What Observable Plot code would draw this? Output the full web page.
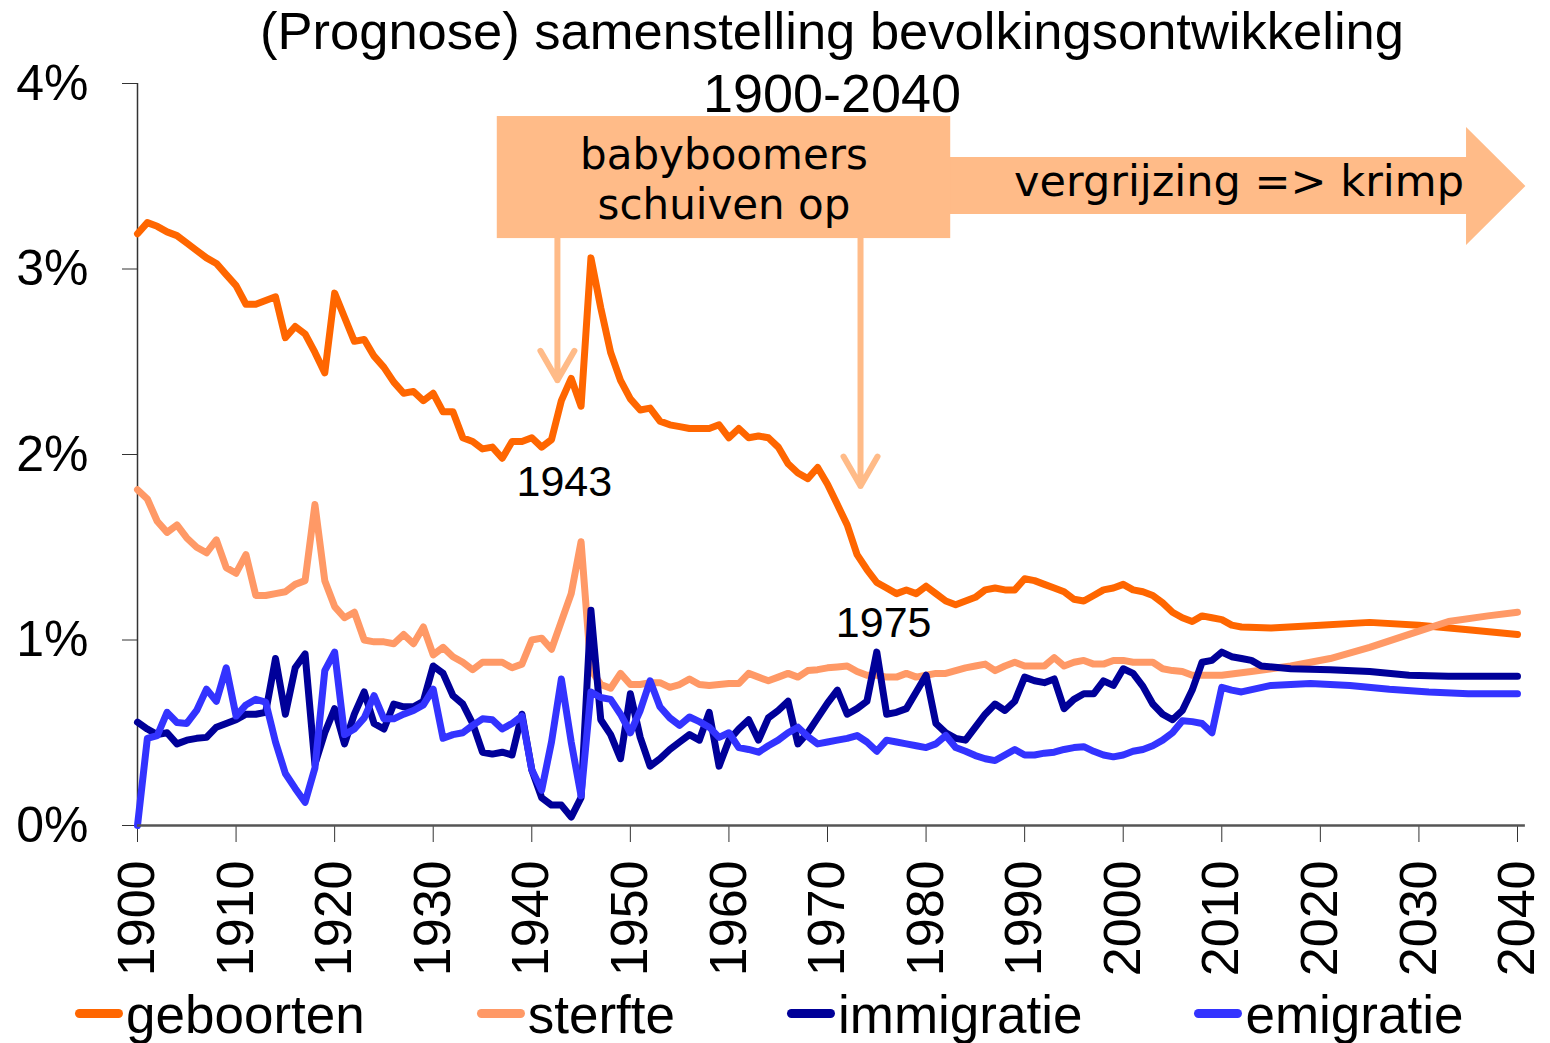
<!DOCTYPE html>
<html>
<head>
<meta charset="utf-8">
<script src="https://cdn.jsdelivr.net/npm/d3@7"></script>
<script src="https://cdn.jsdelivr.net/npm/@observablehq/plot@0.6"></script>
<style>
  body { margin: 0; background: #fff; }
  #wrap { position: relative; width: 1550px; height: 1043px; overflow: hidden; background: #fff; }
  #title { position: absolute; top: 0; left: 114px; right: 0; text-align: center;
           font-family: 'Liberation Sans', Arial, sans-serif; font-size: 52.5px; line-height: 62px;
           color: #000; pointer-events: none; z-index: 2; white-space: nowrap; }
  #title .sub { font-size: 54px; }
  #chart svg { display: block; }
  #legend { display: flex; padding-left: 75px; gap: 112px; height: 56px; align-items: center;
            font-family: 'Liberation Sans', Arial, sans-serif; font-size: 53px; line-height: 56px; color: #000; }
  .item { display: flex; align-items: center; white-space: nowrap; }
  .sw { width: 48px; height: 9px; border-radius: 5px; margin-right: 3px; margin-top: -4px; }
</style>
</head>
<body>
<div id="wrap">
  <div id="title">(Prognose) samenstelling bevolkingsontwikkeling<br><span class="sub">1900-2040</span></div>
  <div id="chart"></div>
  <div id="legend"></div>
</div>
<script>
// ---- data (percent of population per year) ----
const seriesNames = ["geboorten", "sterfte", "immigratie", "emigratie"];
const seriesColors = ["#FF6600", "#FF9966", "#000099", "#3333FF"];

const geboorten = [[1900,3.19],[1901,3.25],[1902,3.23],[1903,3.20],[1904,3.18],[1905,3.14],[1906,3.10],[1907,3.06],[1908,3.03],[1909,2.97],
[1910,2.91],[1911,2.81],[1912,2.81],[1913,2.83],[1914,2.85],[1915,2.63],[1916,2.69],[1917,2.65],[1918,2.55],[1919,2.44],
[1920,2.87],[1921,2.74],[1922,2.61],[1923,2.62],[1924,2.53],[1925,2.47],[1926,2.39],[1927,2.33],[1928,2.34],[1929,2.29],
[1930,2.33],[1931,2.23],[1932,2.23],[1933,2.09],[1934,2.07],[1935,2.03],[1936,2.04],[1937,1.98],[1938,2.07],[1939,2.07],
[1940,2.09],[1941,2.04],[1942,2.08],[1943,2.29],[1944,2.41],[1945,2.26],[1946,3.06],[1947,2.79],[1948,2.55],[1949,2.40],
[1950,2.30],[1951,2.24],[1952,2.25],[1953,2.18],[1954,2.16],[1955,2.15],[1956,2.14],[1957,2.14],[1958,2.14],[1959,2.16],
[1960,2.09],[1961,2.14],[1962,2.09],[1963,2.10],[1964,2.09],[1965,2.04],[1966,1.95],[1967,1.90],[1968,1.87],[1969,1.93],
[1970,1.84],[1971,1.73],[1972,1.62],[1973,1.46],[1974,1.38],[1975,1.31],[1976,1.28],[1977,1.25],[1978,1.27],[1979,1.25],
[1980,1.29],[1981,1.25],[1982,1.21],[1983,1.19],[1984,1.21],[1985,1.23],[1986,1.27],[1987,1.28],[1988,1.27],[1989,1.27],
[1990,1.33],[1991,1.32],[1992,1.30],[1993,1.28],[1994,1.26],[1995,1.22],[1996,1.21],[1997,1.24],[1998,1.27],[1999,1.28],
[2000,1.30],[2001,1.27],[2002,1.26],[2003,1.24],[2004,1.20],[2005,1.15],[2006,1.12],[2007,1.10],[2008,1.13],[2009,1.12],
[2010,1.11],[2011,1.08],[2012,1.07],[2015,1.065],[2020,1.08],[2025,1.095],[2030,1.08],[2035,1.055],[2040,1.03]];

const sterfte = [[1900,1.81],[1901,1.76],[1902,1.64],[1903,1.58],[1904,1.62],[1905,1.55],[1906,1.50],[1907,1.47],[1908,1.54],[1909,1.39],
[1910,1.36],[1911,1.46],[1912,1.24],[1913,1.24],[1914,1.25],[1915,1.26],[1916,1.30],[1917,1.32],[1918,1.73],[1919,1.32],
[1920,1.18],[1921,1.12],[1922,1.15],[1923,1.00],[1924,0.99],[1925,0.99],[1926,0.98],[1927,1.03],[1928,0.98],[1929,1.07],
[1930,0.92],[1931,0.96],[1932,0.91],[1933,0.88],[1934,0.84],[1935,0.88],[1936,0.88],[1937,0.88],[1938,0.85],[1939,0.87],
[1940,1.00],[1941,1.01],[1942,0.95],[1943,1.10],[1944,1.25],[1945,1.53],[1946,0.84],[1947,0.76],[1948,0.74],[1949,0.82],
[1950,0.76],[1951,0.76],[1952,0.77],[1953,0.77],[1954,0.745],[1955,0.76],[1956,0.79],[1957,0.76],[1958,0.755],[1959,0.76],
[1960,0.765],[1961,0.765],[1962,0.82],[1963,0.80],[1964,0.78],[1965,0.80],[1966,0.82],[1967,0.80],[1968,0.835],[1969,0.84],
[1970,0.85],[1971,0.855],[1972,0.86],[1973,0.83],[1974,0.81],[1975,0.81],[1976,0.80],[1977,0.80],[1978,0.82],[1979,0.80],
[1980,0.81],[1981,0.82],[1982,0.82],[1983,0.835],[1984,0.85],[1985,0.86],[1986,0.87],[1987,0.835],[1988,0.86],[1989,0.88],
[1990,0.86],[1991,0.86],[1992,0.86],[1993,0.905],[1994,0.86],[1995,0.88],[1996,0.89],[1997,0.87],[1998,0.87],[1999,0.89],
[2000,0.89],[2001,0.88],[2002,0.88],[2003,0.88],[2004,0.845],[2005,0.835],[2006,0.83],[2007,0.81],[2008,0.81],[2009,0.81],
[2010,0.81],[2013,0.83],[2017,0.86],[2021,0.90],[2025,0.96],[2029,1.03],[2033,1.10],[2037,1.13],[2040,1.15]];

const immigratie = [[1900,0.557],[1901,0.52],[1902,0.49],[1903,0.50],[1904,0.44],[1905,0.46],[1906,0.47],[1907,0.475],[1908,0.53],[1909,0.55],
[1910,0.57],[1911,0.60],[1912,0.60],[1913,0.61],[1914,0.90],[1915,0.60],[1916,0.85],[1917,0.925],[1918,0.33],[1919,0.50],
[1920,0.63],[1921,0.44],[1922,0.60],[1923,0.72],[1924,0.55],[1925,0.52],[1926,0.655],[1927,0.64],[1928,0.64],[1929,0.67],
[1930,0.86],[1931,0.82],[1932,0.70],[1933,0.655],[1934,0.55],[1935,0.395],[1936,0.385],[1937,0.395],[1938,0.38],[1939,0.60],
[1940,0.30],[1941,0.15],[1942,0.11],[1943,0.11],[1944,0.045],[1945,0.15],[1946,1.16],[1947,0.57],[1948,0.49],[1949,0.36],
[1950,0.71],[1951,0.475],[1952,0.32],[1953,0.36],[1954,0.41],[1955,0.45],[1956,0.49],[1957,0.46],[1958,0.61],[1959,0.32],
[1960,0.46],[1961,0.52],[1962,0.57],[1963,0.46],[1964,0.58],[1965,0.62],[1966,0.67],[1967,0.44],[1968,0.50],[1969,0.58],
[1970,0.66],[1971,0.73],[1972,0.60],[1973,0.63],[1974,0.67],[1975,0.935],[1976,0.60],[1977,0.61],[1978,0.63],[1979,0.72],
[1980,0.81],[1981,0.55],[1982,0.50],[1983,0.47],[1984,0.46],[1985,0.53],[1986,0.60],[1987,0.655],[1988,0.62],[1989,0.67],
[1990,0.80],[1991,0.78],[1992,0.77],[1993,0.79],[1994,0.63],[1995,0.68],[1996,0.71],[1997,0.71],[1998,0.78],[1999,0.755],
[2000,0.845],[2001,0.82],[2002,0.75],[2003,0.655],[2004,0.60],[2005,0.57],[2006,0.62],[2007,0.73],[2008,0.88],[2009,0.89],
[2010,0.935],[2011,0.91],[2012,0.90],[2013,0.89],[2014,0.86],[2017,0.845],[2021,0.84],[2025,0.83],[2029,0.81],[2033,0.805],[2040,0.805]];

const emigratie = [[1900,0.0],[1901,0.47],[1902,0.485],[1903,0.61],[1904,0.555],[1905,0.55],[1906,0.62],[1907,0.735],[1908,0.67],[1909,0.85],
[1910,0.59],[1911,0.65],[1912,0.68],[1913,0.665],[1914,0.45],[1915,0.28],[1916,0.20],[1917,0.125],[1918,0.31],[1919,0.835],
[1920,0.935],[1921,0.49],[1922,0.52],[1923,0.58],[1924,0.70],[1925,0.575],[1926,0.575],[1927,0.60],[1928,0.62],[1929,0.65],
[1930,0.735],[1931,0.47],[1932,0.49],[1933,0.50],[1934,0.54],[1935,0.575],[1936,0.57],[1937,0.52],[1938,0.55],[1939,0.59],
[1940,0.30],[1941,0.19],[1942,0.45],[1943,0.79],[1944,0.45],[1945,0.16],[1946,0.72],[1947,0.69],[1948,0.68],[1949,0.60],
[1950,0.50],[1951,0.62],[1952,0.78],[1953,0.64],[1954,0.58],[1955,0.54],[1956,0.585],[1957,0.56],[1958,0.53],[1959,0.475],
[1960,0.50],[1961,0.42],[1962,0.41],[1963,0.395],[1964,0.43],[1965,0.46],[1966,0.50],[1967,0.53],[1968,0.48],[1969,0.44],
[1970,0.45],[1971,0.46],[1972,0.47],[1973,0.485],[1974,0.45],[1975,0.40],[1976,0.46],[1977,0.45],[1978,0.44],[1979,0.43],
[1980,0.42],[1981,0.44],[1982,0.485],[1983,0.42],[1984,0.40],[1985,0.377],[1986,0.36],[1987,0.35],[1988,0.38],[1989,0.41],
[1990,0.38],[1991,0.38],[1992,0.39],[1993,0.395],[1994,0.41],[1995,0.42],[1996,0.425],[1997,0.40],[1998,0.38],[1999,0.37],
[2000,0.38],[2001,0.40],[2002,0.41],[2003,0.43],[2004,0.46],[2005,0.50],[2006,0.565],[2007,0.56],[2008,0.55],[2009,0.50],
[2010,0.745],[2011,0.73],[2012,0.72],[2015,0.755],[2019,0.765],[2023,0.755],[2027,0.735],[2031,0.72],[2035,0.71],[2040,0.71]];

const seriesData = [geboorten, sterfte, immigratie, emigratie];

const xTicks = [1900,1910,1920,1930,1940,1950,1960,1970,1980,1990,2000,2010,2020,2030,2040];
const yTicks = [0,1,2,3,4];

// annotations (data coordinates)
const yearNotes = [{label: "1943", x: 1943.3, y: 1.85}, {label: "1975", x: 1975.7, y: 1.09}];
const boxNote = [{x1: 1936.5, x2: 1982.5, y1: 3.164, y2: 3.822, label: "babyboomers\nschuiven op", tx: 1959.5, ty: 3.49}];
const bigArrow = [
  {x: 1982.0, y1: 3.294, y2: 3.601},
  {x: 2034.83, y1: 3.294, y2: 3.601},
  {x: 2034.83, y1: 3.127, y2: 3.763},
  {x: 2040.85, y1: 3.445, y2: 3.445}
];
const arrowNote = [{label: "vergrijzing => krimp", x: 2011.75, y: 3.47}];
const pointerArrows = [
  {x: 1942.6, y1: 3.164, y2: 2.40},
  {x: 1973.35, y1: 3.164, y2: 1.83}
];
const noteColor = "#FFBB88";

const lineMarks = seriesData.map((data, i) =>
  Plot.line(data, {x: d => d[0], y: d => d[1], stroke: seriesColors[i], strokeWidth: 7,
                   strokeLinejoin: "round", strokeLinecap: "round"}));

const chart = Plot.plot({
  width: 1550,
  height: 987,
  marginLeft: 137,
  marginRight: 33,
  marginTop: 83,
  marginBottom: 162,
  x: {domain: [1900, 2040]},
  y: {domain: [0, 4]},
  style: {fontFamily: "'Liberation Sans', Arial, sans-serif", color: "#000", background: "#fff", overflow: "visible"},
  marks: [
    Plot.areaY(bigArrow, {x: "x", y1: "y1", y2: "y2", fill: noteColor}),
    Plot.rect(boxNote, {x1: "x1", x2: "x2", y1: "y1", y2: "y2", fill: noteColor}),
    Plot.arrow(pointerArrows, {x1: "x", x2: "x", y1: "y1", y2: "y2", stroke: noteColor, strokeWidth: 6,
                               headAngle: 60, headLength: 8.5}),
    Plot.text(boxNote, {x: "tx", y: "ty", text: "label", fontFamily: "'DejaVu Sans', Verdana, sans-serif",
                        fontSize: 42, lineHeight: 1.2, fill: "#000"}),
    Plot.text(arrowNote, {x: "x", y: "y", text: "label", fontFamily: "'DejaVu Sans', Verdana, sans-serif",
                          fontSize: 43, fill: "#000"}),
    Plot.ruleX([1900], {y1: 0, y2: 4, stroke: "#333", strokeWidth: 1.5}),
    Plot.axisY({ticks: yTicks, tickFormat: d => d + "%", tickSize: 15, tickPadding: 34, fontSize: 50,
                label: null, stroke: "#333"}),
    Plot.axisX({ticks: xTicks, tickFormat: d => String(d), tickRotate: -90, tickSize: 17, tickPadding: 18,
                fontSize: 52, label: null, stroke: "#333"}),
    ...lineMarks,
    Plot.ruleY([0], {x1: 1900, x2: 2040.8, stroke: "#555", strokeWidth: 2.5}),
    Plot.text(yearNotes, {x: "x", y: "y", text: "label", fontSize: 43, fill: "#000"})
  ]
});
document.getElementById("chart").appendChild(chart);

const legend = d3.select("#legend");
seriesNames.forEach((name, i) => {
  const item = legend.append("div").attr("class", "item");
  item.append("div").attr("class", "sw").style("background", seriesColors[i]);
  item.append("span").text(name);
});
</script>
</body>
</html>
